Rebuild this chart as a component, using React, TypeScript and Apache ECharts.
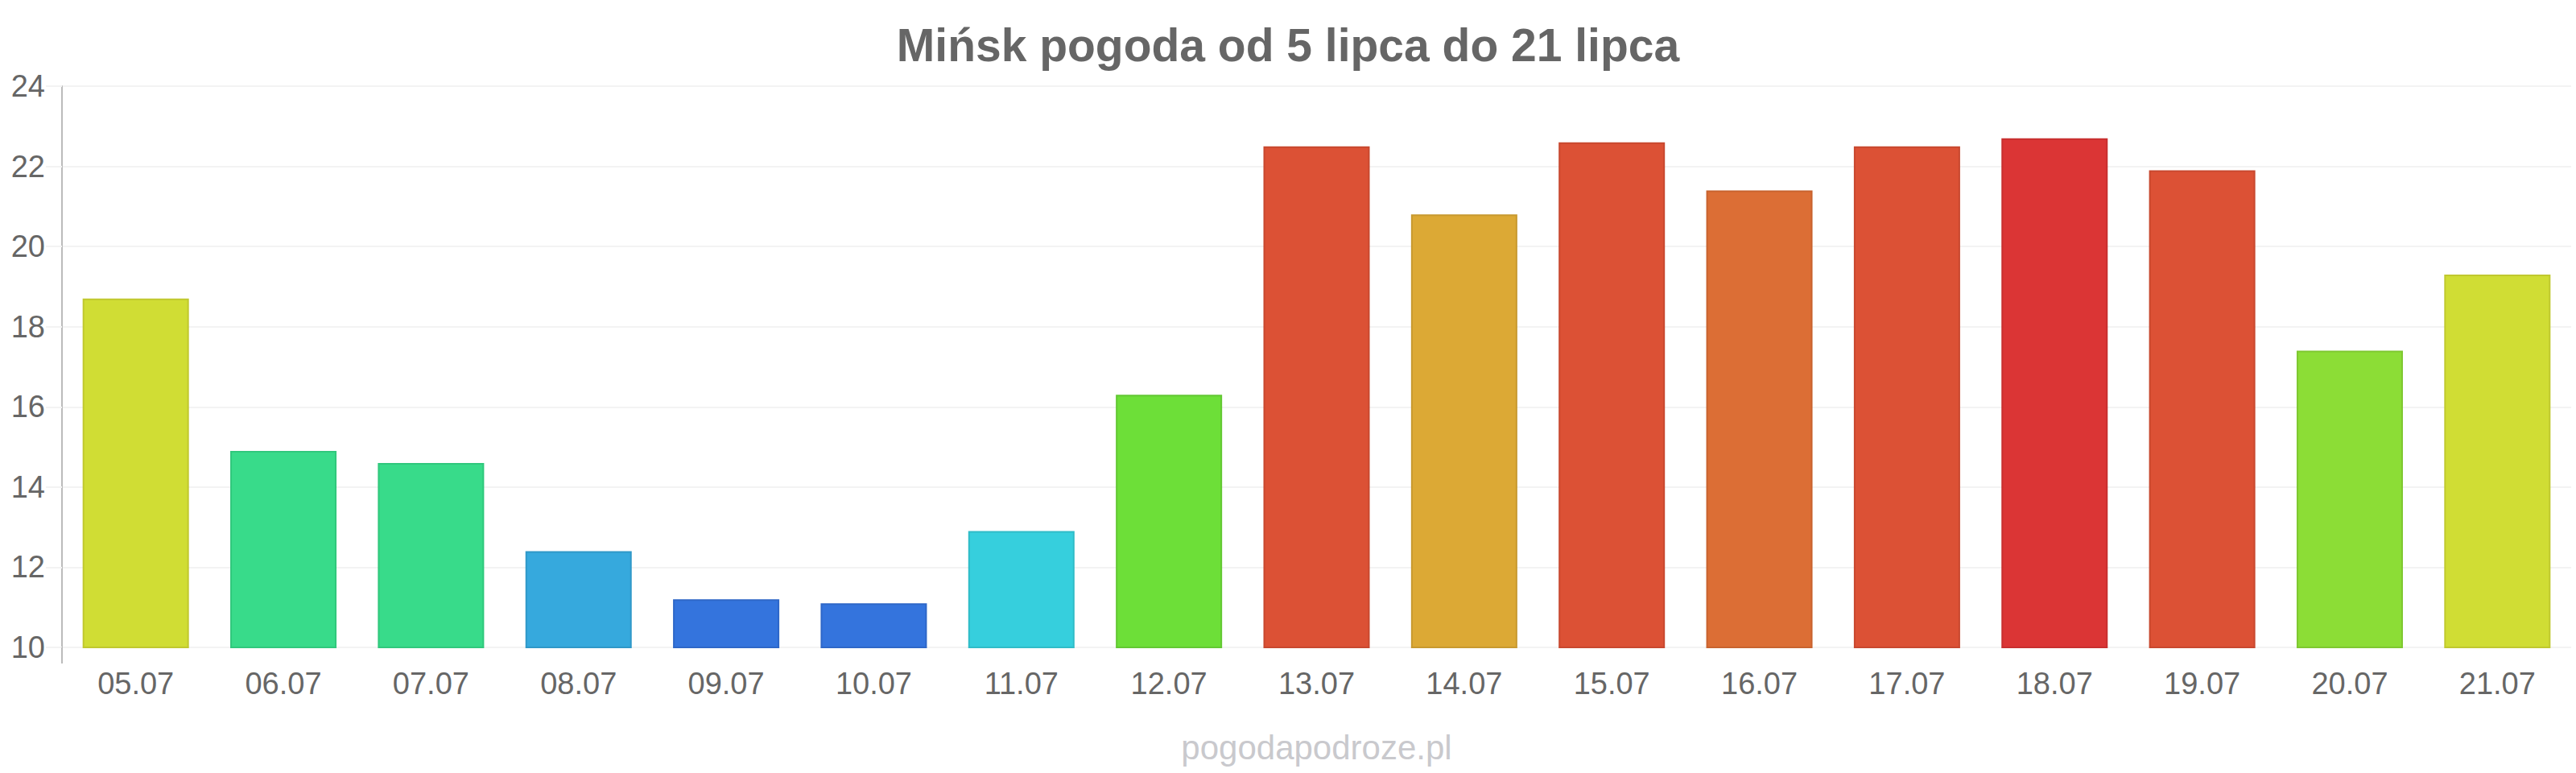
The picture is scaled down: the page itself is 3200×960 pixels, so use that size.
import React, { useEffect, useRef } from "react";
import * as echarts from "echarts";

// Daily temperatures (°C) for Mińsk, 5–21 July
const days = [
  "05.07", "06.07", "07.07", "08.07", "09.07", "10.07", "11.07", "12.07", "13.07",
  "14.07", "15.07", "16.07", "17.07", "18.07", "19.07", "20.07", "21.07",
];
const temperatures = [
  18.7, 14.9, 14.6, 12.4, 11.2, 11.1, 12.9, 16.3, 22.5,
  20.8, 22.6, 21.4, 22.5, 22.7, 21.9, 17.4, 19.3,
];
// Fill colour for each day's bar, by temperature band
const barColors = [
  "#d0dd34", "#38db8a", "#38db8a", "#36a9dd", "#3474dd", "#3474dd", "#36cfdd", "#6ddf38", "#dc5135",
  "#dca935", "#dc5135", "#dc6e35", "#dc5135", "#db3535", "#dc5135", "#8cdd36", "#d0dd34",
];
const barBorders = [
  "#c0c82e", "#30c87c", "#30c87c", "#2f98c8", "#2e67c8", "#2e67c8", "#30bcc8", "#62c832", "#c8482f",
  "#c8992f", "#c8482f", "#c8632f", "#c8482f", "#c82f2f", "#c8482f", "#7ec830", "#c0c82e",
];
const yTicks = { min: 10, max: 24, interval: 2 };

const titleText = "Mińsk pogoda od 5 lipca do 21 lipca";
const siteText = "pogodapodroze.pl";

const W = 3200;
const H = 960;
const GRID = { left: 77, right: 6, top: 107, bottom: 156 };
const FONT = "'Liberation Sans', Arial, sans-serif";

export default function App() {
  const ref = useRef<HTMLDivElement>(null);

  useEffect(() => {
    document.body.style.margin = "0";
    if (!ref.current) return;
    const chart = echarts.init(ref.current, null, { renderer: "svg" });
    const plotBottom = H - GRID.bottom;
    const plotCenterX = (GRID.left + (W - GRID.right)) / 2;

    chart.setOption({
      animation: false,
      backgroundColor: "#ffffff",
      textStyle: { fontFamily: FONT },
      title: {
        text: titleText,
        left: "center",
        top: 22,
        textStyle: { fontFamily: FONT, fontSize: 57, fontWeight: "bold", color: "#666666" },
      },
      grid: { ...GRID, containLabel: false },
      xAxis: {
        type: "category",
        data: days,
        axisLine: { show: false },
        axisTick: { show: false },
        axisLabel: { color: "#666666", fontSize: 38, fontFamily: FONT, margin: 26 },
        splitLine: { show: false },
      },
      yAxis: {
        type: "value",
        min: yTicks.min,
        max: yTicks.max,
        interval: yTicks.interval,
        axisLine: { show: true, lineStyle: { color: "#bbbbbb", width: 2 } },
        axisTick: { show: true, length: 20, lineStyle: { color: "#f3f3f3", width: 2 } },
        axisLabel: { color: "#666666", fontSize: 38, fontFamily: FONT, margin: 21 },
        splitLine: { show: true, lineStyle: { color: "#f3f3f3", width: 2 } },
      },
      series: [
        {
          type: "bar",
          barWidth: "72%",
          data: temperatures.map((v, i) => ({
            value: v,
            itemStyle: { color: barColors[i], borderColor: barBorders[i], borderWidth: 2 },
          })),
        },
      ],
      graphic: [
        {
          type: "line",
          shape: { x1: GRID.left, y1: plotBottom, x2: GRID.left, y2: plotBottom + 20 },
          style: { stroke: "#bbbbbb", lineWidth: 2 },
          z: 10,
        },
        {
          type: "text",
          x: plotCenterX,
          y: 928,
          style: {
            text: siteText,
            fill: "#c9c9cd",
            font: `42px ${FONT}`,
            textAlign: "center",
            textVerticalAlign: "middle",
          },
        },
      ],
    });

    return () => chart.dispose();
  }, []);

  return <div ref={ref} style={{ width: W, height: H }} />;
}
